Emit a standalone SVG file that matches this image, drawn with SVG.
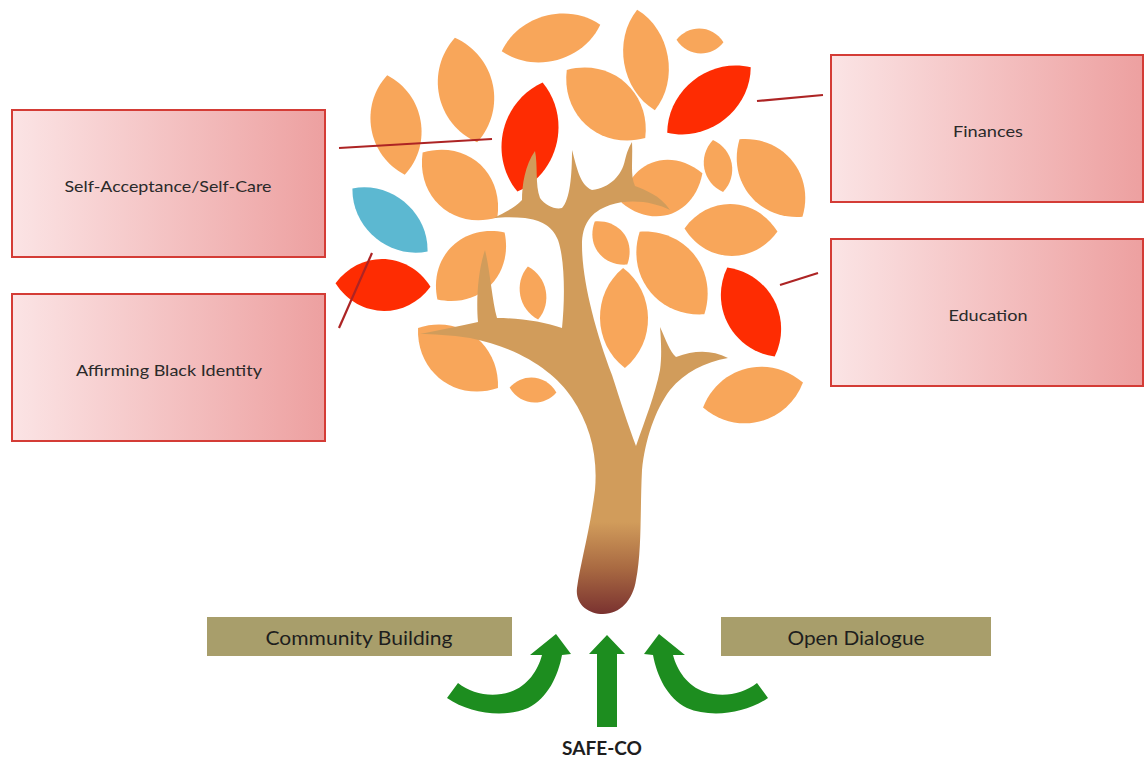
<svg xmlns="http://www.w3.org/2000/svg" xmlns:xlink="http://www.w3.org/1999/xlink" width="1144" height="779" viewBox="0 0 1144 779">
<style>
.o{fill:#f8a65a}
.r{fill:#fe2c02}
.b{fill:#5cb8d1}
.box{stroke:#d43c36;stroke-width:2;fill:url(#pink)}
.gbox{fill:#a89e6b}
.lbl{font-family:Lato,"Open Sans","Liberation Sans",sans-serif;font-size:16px;fill:#2a2a2a;text-anchor:middle}
.glbl{font-family:Lato,"Open Sans","Liberation Sans",sans-serif;font-size:19px;fill:#1e1e1e;text-anchor:middle}
.conn{stroke:#ad2424;stroke-width:2.2;fill:none}
.arr{fill:#1d8d1f}
</style>
<defs>
<linearGradient id="pink" x1="0" y1="0" x2="1" y2="0">
<stop offset="0" stop-color="#fbe4e5"/>
<stop offset="1" stop-color="#eda0a0"/>
</linearGradient>
<linearGradient id="trunkg" gradientUnits="userSpaceOnUse" x1="0" y1="522" x2="0" y2="614">
<stop offset="0" stop-color="#d19c5b"/>
<stop offset="0.5" stop-color="#a96a42"/>
<stop offset="1" stop-color="#7a3230"/>
</linearGradient>
<path id="leaf" d="M-50 0 C -25 -32 25 -32 50 0 C 25 32 -25 32 -50 0 Z"/>
</defs>
<rect width="1144" height="779" fill="#ffffff"/>

<g id="leaves">
<use href="#leaf" class="o" transform="translate(551,38) rotate(-15) scale(1.02,0.95)"/>
<use href="#leaf" class="o" transform="translate(646,60) rotate(80) scale(1.02,0.92)"/>
<use href="#leaf" class="o" transform="translate(700,41) rotate(3) scale(0.47,0.52)"/>
<use href="#leaf" class="r" transform="translate(709,100) rotate(-38) scale(1.06,1.04)"/>
<use href="#leaf" class="o" transform="translate(606,104) rotate(41) scale(1.04,1.2)"/>
<use href="#leaf" class="r" transform="translate(530,137) rotate(103) scale(1.12,1.14)"/>
<use href="#leaf" class="o" transform="translate(466,90) rotate(78) scale(1.07,1.14)"/>
<use href="#leaf" class="o" transform="translate(396,125) rotate(80) scale(1.01,1.04)"/>
<use href="#leaf" class="o" transform="translate(460,185) rotate(41) scale(0.99,1.2)"/>
<use href="#leaf" class="b" transform="translate(390,220) rotate(40) scale(0.98,0.96)"/>
<use href="#leaf" class="r" transform="translate(383,285) rotate(2) scale(0.95,1.08)"/>
<use href="#leaf" class="o" transform="translate(471,266) rotate(-45) scale(0.95,1.14)"/>
<use href="#leaf" class="o" transform="translate(533,293) rotate(79) scale(0.54,0.54)"/>
<use href="#leaf" class="o" transform="translate(611,243) rotate(53) scale(0.54,0.66)"/>
<use href="#leaf" class="o" transform="translate(624,318) rotate(89) scale(1.0,1.0)"/>
<use href="#leaf" class="o" transform="translate(672,273) rotate(52) scale(1.05,1.2)"/>
<use href="#leaf" class="o" transform="translate(718,166) rotate(79) scale(0.53,0.58)"/>
<use href="#leaf" class="o" transform="translate(771,178) rotate(51) scale(1.0,1.14)"/>
<use href="#leaf" class="o" transform="translate(731,230) rotate(2) scale(0.93,1.08)"/>
<use href="#leaf" class="o" transform="translate(662,188) rotate(-20) scale(0.86,1.14)"/>
<use href="#leaf" class="r" transform="translate(751,312) rotate(62) scale(1.01,1.08)"/>
<use href="#leaf" class="o" transform="translate(458,358) rotate(37) scale(1.0,1.14)"/>
<use href="#leaf" class="o" transform="translate(533,390) rotate(6) scale(0.47,0.52)"/>
<use href="#leaf" class="o" transform="translate(753,395) rotate(-14) scale(1.03,1.14)"/>
</g>

<g id="tree">
<path fill="url(#trunkg)" d="M 603 614
C 588 614 575 604 577 588
C 580 565 590 530 595 490
C 598 455 590 425 572 398
C 555 372 520 348 470 338
C 450 335 432 334 420 334
C 440 330 460 326 478 322
C 476 300 478 270 485 250
C 490 270 492 300 497 318
C 520 318 545 322 562 328
C 565 300 565 260 558 240
C 552 225 540 220 525 218
C 515 217 503 217 494 218
C 505 212 515 208 522 200
C 522 185 525 165 535 151
C 538 165 535 185 540 198
C 545 205 555 210 562 208
C 570 200 572 175 572 150
C 577 168 580 185 592 190
C 610 188 622 175 625 160
C 627 152 629 147 632 142
C 633 160 630 175 635 186
C 645 190 660 195 670 210
C 655 202 630 198 610 205
C 590 212 582 225 582 245
C 582 280 595 330 612 375
C 620 400 628 425 636 446
C 645 420 655 395 660 370
C 662 355 661 340 660 327
C 666 340 670 352 676 357
C 695 350 712 350 728 358
C 705 362 685 372 670 390
C 655 410 645 440 642 470
C 640 510 642 550 636 580
C 633 600 620 614 603 614 Z"/>
</g>

<g id="node-self-acceptance">
<rect class="box" x="12" y="110" width="313" height="147"/>
<text class="lbl" x="168" y="192" textLength="207" lengthAdjust="spacingAndGlyphs">Self-Acceptance/Self-Care</text>
</g>
<g id="node-affirming">
<rect class="box" x="12" y="294" width="313" height="147"/>
<text class="lbl" x="169" y="376" textLength="186" lengthAdjust="spacingAndGlyphs">Affirming Black Identity</text>
</g>
<g id="node-finances">
<rect class="box" x="831" y="55" width="312" height="147"/>
<text class="lbl" x="988" y="137" textLength="70" lengthAdjust="spacingAndGlyphs">Finances</text>
</g>
<g id="node-education">
<rect class="box" x="831" y="239" width="312" height="147"/>
<text class="lbl" x="988" y="321" textLength="79" lengthAdjust="spacingAndGlyphs">Education</text>
</g>

<g id="node-community">
<rect class="gbox" x="207" y="617" width="305" height="39"/>
<text class="glbl" x="359" y="645" textLength="187" lengthAdjust="spacingAndGlyphs">Community Building</text>
</g>
<g id="node-dialogue">
<rect class="gbox" x="721" y="617" width="270" height="39"/>
<text class="glbl" x="856" y="645" textLength="137" lengthAdjust="spacingAndGlyphs">Open Dialogue</text>
</g>
<g id="node-safeco">
<text x="602" y="755" font-family="Lato,'Open Sans','Liberation Sans',sans-serif" font-size="19" font-weight="bold" fill="#1e1e1e" text-anchor="middle" textLength="80" lengthAdjust="spacingAndGlyphs">SAFE-CO</text>
</g>

<g id="connectors">
<line class="conn" x1="339" y1="148" x2="492" y2="139"/>
<line class="conn" x1="339" y1="328" x2="372" y2="253"/>
<line class="conn" x1="757" y1="101" x2="823" y2="95"/>
<line class="conn" x1="780" y1="285" x2="818" y2="273"/>
<path class="arr" d="M 597 727 L 597 654 L 589 654 L 607 635 L 625 654 L 617 654 L 617 727 Z"/>
<path class="arr" d="M 447 698 L 458 683 C 472 694 492 698 510 692 C 528 686 538 670 542 655 L 530 655 L 556 634 L 571 654 L 562 655 C 558 676 548 698 528 708 C 505 718 470 714 447 698 Z"/>
<path class="arr" d="M 768 698 L 757 683 C 743 694 723 698 705 692 C 687 686 677 670 673 655 L 685 655 L 659 634 L 644 654 L 653 655 C 657 676 667 698 687 708 C 710 718 745 714 768 698 Z"/>
</g>
</svg>
